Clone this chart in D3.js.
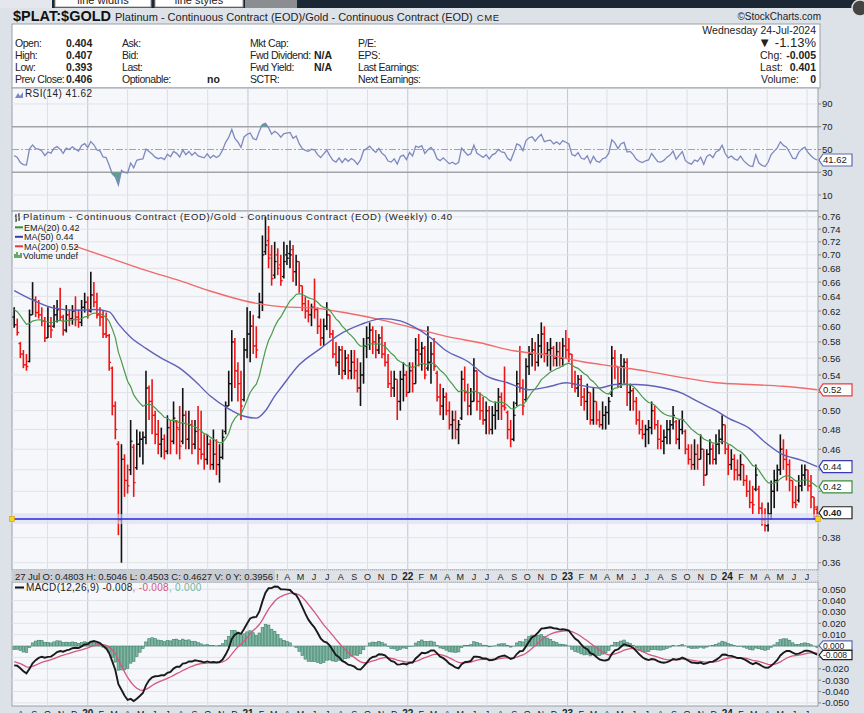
<!DOCTYPE html>
<html>
<head>
<meta charset="utf-8">
<script src="https://cdn.jsdelivr.net/npm/d3@7/dist/d3.min.js"></script>
<style>
  body { margin: 0; background: #dde2e9; }
  svg { display: block; }
  text { font-family: "Liberation Sans", Arial, sans-serif; fill: #222; }
</style>
</head>
<body>
<div id="chart"></div>
<script>
// Weekly $PLAT:$GOLD bars, first week starts Mon 15 Jul 2019
var firstWeek = new Date(2019, 6, 17)

var opens = [
  0.612, 0.602, 0.578, 0.565, 0.552, 0.556, 0.615, 0.635, 0.618, 0.615, 0.607, 0.585, 0.600,
  0.600, 0.615, 0.622, 0.612, 0.595, 0.615, 0.610, 0.620, 0.612, 0.605, 0.625, 0.632, 0.620,
  0.642, 0.632, 0.615, 0.612, 0.590, 0.588, 0.548, 0.505, 0.465, 0.395, 0.450, 0.430, 0.440,
  0.462, 0.442, 0.465, 0.470, 0.472, 0.525, 0.510, 0.495, 0.475, 0.465, 0.470, 0.458, 0.482,
  0.468, 0.488, 0.480, 0.468, 0.495, 0.470, 0.485, 0.465, 0.478, 0.460, 0.455, 0.450, 0.465,
  0.445, 0.455, 0.445, 0.452, 0.478, 0.505, 0.530, 0.580, 0.545, 0.530, 0.512, 0.570, 0.590,
  0.600, 0.575, 0.612, 0.632, 0.705, 0.722, 0.700, 0.670, 0.700, 0.685, 0.668, 0.700, 0.702,
  0.708, 0.675, 0.690, 0.655, 0.630, 0.620, 0.615, 0.625, 0.622, 0.600, 0.585, 0.600, 0.615,
  0.590, 0.565, 0.555, 0.570, 0.545, 0.560, 0.545, 0.555, 0.545, 0.525, 0.540, 0.575, 0.585,
  0.595, 0.580, 0.570, 0.585, 0.565, 0.555, 0.530, 0.525, 0.535, 0.510, 0.535, 0.540, 0.520,
  0.545, 0.530, 0.570, 0.565, 0.572, 0.548, 0.555, 0.565, 0.542, 0.515, 0.505, 0.515, 0.500,
  0.485, 0.490, 0.480, 0.492, 0.535, 0.520, 0.505, 0.510, 0.545, 0.510, 0.500, 0.490, 0.500,
  0.480, 0.495, 0.500, 0.515, 0.505, 0.498, 0.480, 0.470, 0.508, 0.530, 0.525, 0.512, 0.550,
  0.565, 0.570, 0.555, 0.575, 0.590, 0.565, 0.570, 0.572, 0.560, 0.568, 0.560, 0.575, 0.570,
  0.565, 0.530, 0.525, 0.535, 0.515, 0.510, 0.520, 0.490, 0.510, 0.490, 0.485, 0.495, 0.498,
  0.518, 0.560, 0.550, 0.530, 0.550, 0.555, 0.520, 0.522, 0.510, 0.490, 0.480, 0.475, 0.480,
  0.482, 0.500, 0.485, 0.470, 0.468, 0.472, 0.480, 0.485, 0.488, 0.470, 0.480, 0.478, 0.460,
  0.450, 0.445, 0.455, 0.450, 0.460, 0.435, 0.455, 0.460, 0.450, 0.465, 0.470, 0.485, 0.460,
  0.445, 0.450, 0.440, 0.435, 0.445, 0.430, 0.420, 0.410, 0.422, 0.422, 0.405, 0.395, 0.390,
  0.400, 0.420, 0.430, 0.440, 0.460, 0.450, 0.445, 0.430, 0.410, 0.412, 0.425, 0.435, 0.440,
  0.425, 0.415, 0.404
]
var highs = [
  0.625, 0.610, 0.580, 0.570, 0.565, 0.622, 0.660, 0.640, 0.635, 0.625, 0.612, 0.625, 0.612,
  0.628, 0.635, 0.652, 0.615, 0.628, 0.622, 0.628, 0.640, 0.622, 0.635, 0.645, 0.640, 0.675,
  0.660, 0.645, 0.625, 0.620, 0.618, 0.590, 0.550, 0.510, 0.468, 0.465, 0.455, 0.445, 0.490,
  0.465, 0.480, 0.478, 0.478, 0.545, 0.528, 0.535, 0.500, 0.490, 0.482, 0.475, 0.495, 0.490,
  0.510, 0.490, 0.505, 0.525, 0.500, 0.500, 0.490, 0.490, 0.505, 0.500, 0.475, 0.475, 0.470,
  0.480, 0.470, 0.465, 0.480, 0.510, 0.545, 0.595, 0.585, 0.555, 0.545, 0.585, 0.625, 0.620,
  0.615, 0.600, 0.645, 0.730, 0.760, 0.745, 0.715, 0.720, 0.710, 0.700, 0.720, 0.715, 0.722,
  0.715, 0.700, 0.690, 0.655, 0.640, 0.635, 0.630, 0.665, 0.625, 0.610, 0.610, 0.632, 0.615,
  0.595, 0.580, 0.575, 0.575, 0.570, 0.565, 0.570, 0.570, 0.560, 0.555, 0.585, 0.600, 0.605,
  0.600, 0.595, 0.590, 0.600, 0.580, 0.565, 0.545, 0.545, 0.535, 0.545, 0.555, 0.545, 0.555,
  0.555, 0.585, 0.590, 0.580, 0.575, 0.600, 0.580, 0.585, 0.545, 0.530, 0.525, 0.520, 0.510,
  0.500, 0.500, 0.490, 0.545, 0.550, 0.530, 0.525, 0.560, 0.545, 0.520, 0.515, 0.510, 0.505,
  0.505, 0.510, 0.525, 0.520, 0.550, 0.500, 0.490, 0.510, 0.545, 0.575, 0.535, 0.560, 0.575,
  0.585, 0.580, 0.590, 0.605, 0.600, 0.580, 0.585, 0.575, 0.580, 0.580, 0.585, 0.595, 0.585,
  0.565, 0.545, 0.540, 0.540, 0.525, 0.530, 0.520, 0.525, 0.510, 0.500, 0.510, 0.505, 0.515,
  0.575, 0.570, 0.550, 0.565, 0.560, 0.560, 0.530, 0.525, 0.515, 0.500, 0.490, 0.485, 0.490,
  0.510, 0.505, 0.490, 0.485, 0.480, 0.490, 0.490, 0.505, 0.490, 0.490, 0.500, 0.480, 0.465,
  0.465, 0.470, 0.465, 0.475, 0.460, 0.460, 0.470, 0.465, 0.475, 0.480, 0.495, 0.485, 0.465,
  0.460, 0.455, 0.450, 0.455, 0.445, 0.435, 0.430, 0.425, 0.445, 0.425, 0.410, 0.405, 0.410,
  0.430, 0.440, 0.445, 0.475, 0.470, 0.460, 0.450, 0.430, 0.425, 0.435, 0.445, 0.445, 0.440,
  0.435, 0.415, 0.407
]
var lows = [
  0.598, 0.588, 0.560, 0.548, 0.545, 0.555, 0.615, 0.612, 0.610, 0.600, 0.580, 0.585, 0.585,
  0.598, 0.605, 0.608, 0.588, 0.592, 0.600, 0.602, 0.600, 0.598, 0.600, 0.618, 0.610, 0.618,
  0.625, 0.610, 0.600, 0.585, 0.585, 0.545, 0.495, 0.470, 0.382, 0.360, 0.415, 0.418, 0.435,
  0.415, 0.440, 0.452, 0.445, 0.465, 0.490, 0.475, 0.465, 0.455, 0.452, 0.450, 0.455, 0.455,
  0.465, 0.455, 0.450, 0.465, 0.460, 0.460, 0.455, 0.460, 0.445, 0.450, 0.440, 0.445, 0.440,
  0.440, 0.435, 0.428, 0.450, 0.475, 0.505, 0.510, 0.525, 0.510, 0.490, 0.510, 0.560, 0.555,
  0.565, 0.560, 0.610, 0.620, 0.700, 0.680, 0.655, 0.665, 0.670, 0.655, 0.665, 0.685, 0.680,
  0.660, 0.655, 0.645, 0.620, 0.610, 0.605, 0.600, 0.610, 0.590, 0.575, 0.575, 0.595, 0.585,
  0.560, 0.550, 0.540, 0.535, 0.540, 0.535, 0.535, 0.535, 0.520, 0.505, 0.530, 0.560, 0.570,
  0.565, 0.560, 0.565, 0.560, 0.550, 0.525, 0.515, 0.515, 0.490, 0.500, 0.510, 0.515, 0.520,
  0.520, 0.530, 0.550, 0.545, 0.535, 0.545, 0.530, 0.545, 0.510, 0.495, 0.490, 0.495, 0.480,
  0.470, 0.470, 0.465, 0.490, 0.510, 0.495, 0.495, 0.510, 0.500, 0.490, 0.485, 0.475, 0.475,
  0.475, 0.480, 0.490, 0.490, 0.500, 0.470, 0.462, 0.468, 0.505, 0.520, 0.495, 0.510, 0.540,
  0.550, 0.545, 0.550, 0.560, 0.555, 0.550, 0.545, 0.550, 0.550, 0.550, 0.550, 0.560, 0.555,
  0.525, 0.520, 0.515, 0.505, 0.500, 0.490, 0.485, 0.485, 0.485, 0.482, 0.480, 0.480, 0.485,
  0.515, 0.535, 0.525, 0.525, 0.530, 0.505, 0.500, 0.500, 0.485, 0.475, 0.470, 0.462, 0.465,
  0.475, 0.480, 0.460, 0.460, 0.455, 0.465, 0.465, 0.480, 0.465, 0.460, 0.475, 0.455, 0.445,
  0.440, 0.440, 0.440, 0.450, 0.425, 0.435, 0.445, 0.445, 0.445, 0.455, 0.465, 0.455, 0.435,
  0.440, 0.430, 0.430, 0.430, 0.425, 0.415, 0.405, 0.400, 0.420, 0.400, 0.390, 0.385, 0.385,
  0.395, 0.405, 0.420, 0.435, 0.440, 0.430, 0.420, 0.405, 0.405, 0.410, 0.420, 0.425, 0.420,
  0.405, 0.395, 0.393
]
var closes = [
  0.602, 0.592, 0.565, 0.552, 0.550, 0.615, 0.635, 0.618, 0.615, 0.607, 0.585, 0.600, 0.595,
  0.615, 0.622, 0.612, 0.595, 0.615, 0.610, 0.620, 0.612, 0.605, 0.625, 0.632, 0.620, 0.642,
  0.632, 0.615, 0.612, 0.590, 0.588, 0.555, 0.505, 0.480, 0.395, 0.450, 0.430, 0.425, 0.468,
  0.428, 0.465, 0.470, 0.472, 0.525, 0.510, 0.495, 0.475, 0.465, 0.470, 0.458, 0.482, 0.468,
  0.492, 0.482, 0.463, 0.495, 0.470, 0.485, 0.465, 0.478, 0.460, 0.455, 0.450, 0.465, 0.445,
  0.455, 0.445, 0.452, 0.472, 0.505, 0.530, 0.580, 0.545, 0.530, 0.505, 0.570, 0.590, 0.600,
  0.575, 0.570, 0.632, 0.700, 0.715, 0.695, 0.665, 0.690, 0.680, 0.662, 0.690, 0.695, 0.700,
  0.675, 0.690, 0.655, 0.630, 0.620, 0.615, 0.625, 0.622, 0.600, 0.585, 0.600, 0.615, 0.590,
  0.565, 0.555, 0.570, 0.545, 0.560, 0.545, 0.555, 0.545, 0.525, 0.540, 0.575, 0.585, 0.595,
  0.580, 0.570, 0.585, 0.565, 0.555, 0.530, 0.525, 0.535, 0.510, 0.535, 0.540, 0.520, 0.545,
  0.530, 0.570, 0.565, 0.572, 0.540, 0.555, 0.565, 0.550, 0.515, 0.505, 0.515, 0.500, 0.485,
  0.490, 0.480, 0.485, 0.535, 0.520, 0.505, 0.510, 0.545, 0.510, 0.500, 0.490, 0.500, 0.480,
  0.495, 0.500, 0.515, 0.505, 0.503, 0.480, 0.470, 0.495, 0.530, 0.525, 0.505, 0.550, 0.565,
  0.570, 0.555, 0.575, 0.590, 0.565, 0.570, 0.572, 0.560, 0.568, 0.560, 0.575, 0.570, 0.565,
  0.530, 0.525, 0.535, 0.515, 0.510, 0.520, 0.490, 0.510, 0.490, 0.485, 0.495, 0.498, 0.510,
  0.560, 0.550, 0.530, 0.550, 0.555, 0.520, 0.522, 0.510, 0.490, 0.480, 0.475, 0.480, 0.482,
  0.500, 0.485, 0.470, 0.468, 0.472, 0.480, 0.485, 0.495, 0.470, 0.480, 0.490, 0.460, 0.450,
  0.445, 0.455, 0.450, 0.460, 0.435, 0.455, 0.460, 0.450, 0.465, 0.470, 0.485, 0.460, 0.445,
  0.450, 0.440, 0.435, 0.445, 0.430, 0.420, 0.410, 0.408, 0.435, 0.405, 0.395, 0.390, 0.400,
  0.420, 0.430, 0.440, 0.460, 0.450, 0.445, 0.430, 0.410, 0.408, 0.425, 0.435, 0.440, 0.425,
  0.415, 0.406, 0.401
]

// Moving averages: [week number, value]
var ma50Pts = [[0,0.648],[6,0.635],[13,0.624],[21,0.621],[26,0.622],[31,0.619],[34,0.603],[38,0.586],
  [43,0.572],[48,0.560],[54,0.548],[59,0.533],[64,0.516],[70,0.502],[75,0.494],[79,0.492],[82,0.500],
  [85,0.516],[87,0.525],[93,0.552],[100,0.572],[106,0.589],[113,0.602],[120,0.610],[126,0.607],
  [130,0.600],[136,0.585],[141,0.569],[148,0.556],[154,0.539],[161,0.531],[168,0.523],[175,0.527],
  [180,0.531],[185,0.528],[191,0.525],[196,0.529],[203,0.529],[209,0.527],[218,0.519],[223,0.510],
  [229,0.500],[233,0.492],[240,0.481],[245,0.467],[250,0.456],[257,0.449],[262,0.443]]
var ma200Pts = [[20,0.713],[32,0.694],[43,0.677],[54,0.662],[65,0.646],[75,0.634],[81,0.629],
  [87,0.626],[98,0.624],[109,0.617],[119,0.609],[130,0.598],[141,0.587],[152,0.579],[163,0.569],
  [174,0.564],[185,0.556],[196,0.550],[207,0.544],[218,0.537],[229,0.531],[240,0.529],[251,0.527],
  [262,0.523]]

// indicator starting states
var ema20Start = 0.622
var ema12Start = 0.612
var ema26Start = 0.629
var signalStart = -0.0138
var avgGainStart = 0.0085
var avgLossStart = 0.0105

var hLineValue = 0.3956
var priceTicks = [0.36, 0.38, 0.40, 0.42, 0.44, 0.46, 0.48, 0.50, 0.52, 0.54, 0.56, 0.58,
  0.60, 0.62, 0.64, 0.66, 0.68, 0.70, 0.72, 0.74, 0.76]
var rsiTicks = [10, 30, 50, 70, 90]
var macdTicks = [0.05, 0.04, 0.03, 0.02, 0.01, 0, -0.01, -0.02, -0.03, -0.04, -0.05]
var monthLetters = ['J', 'F', 'M', 'A', 'M', 'J', 'J', 'A', 'S', 'O', 'N', 'D']
var endLabels = { ema: '0.42', ma50: '0.44', ma200: '0.52', price: '0.40', rsi: '41.62', hist: '0.000', macd: '-0.008' }

// Dimensions
var W = 864, H = 713
var left = 12, right = 818
var rsiBox = { top: 88, bottom: 211 }
var priceBox = { top: 211, bottom: 570 }
var macdBox = { top: 582, bottom: 706 }

var svg = d3.select('#chart').append('svg').attr('width', W).attr('height', H)

// Scales
var x = d3.scaleTime().domain([new Date(2019, 6, 12), new Date(2024, 6, 26)]).range([left, right])
var y = d3.scaleLog().domain([0.36, 0.76]).range([562.7, 216.8])
var yRsi = d3.scaleLinear().domain([0, 100]).range([206.4, 92.6])
var yMacd = d3.scaleLinear().domain([-0.05, 0.05]).range([702.9, 589.2])

var dates = closes.map(function (d, i) { return d3.timeDay.offset(firstWeek, 7 * i) })
var xi = function (i) { return x(dates[i]) }

// Indicators
var ema20 = [], e12 = [], e26 = [], macd = [], signal = [], hist = [], rsi = []
var ag = avgGainStart, al = avgLossStart
closes.forEach(function (c, i) {
  ema20.push(i ? ema20[i - 1] + (2 / 21) * (c - ema20[i - 1]) : ema20Start)
  e12.push(i ? e12[i - 1] + (2 / 13) * (c - e12[i - 1]) : ema12Start)
  e26.push(i ? e26[i - 1] + (2 / 27) * (c - e26[i - 1]) : ema26Start)
  macd.push(e12[i] - e26[i])
  signal.push(i ? signal[i - 1] + 0.2 * (macd[i] - signal[i - 1]) : signalStart)
  hist.push(macd[i] - signal[i])
  if (i) {
    var ch = c - closes[i - 1]
    ag = (ag * 13 + Math.max(ch, 0)) / 14
    al = (al * 13 + Math.max(-ch, 0)) / 14
  }
  rsi.push(100 - 100 / (1 + ag / al))
})
var last = closes.length - 1

// Top UI strip
svg.append('rect').attr('x', 0).attr('y', 0).attr('width', W).attr('height', 8).attr('fill', '#1c2736')
svg.append('rect').attr('x', 0).attr('y', 0).attr('width', 52).attr('height', 8).attr('fill', '#e4e7ec')
svg.append('rect').attr('x', 55).attr('y', -2).attr('width', 96).attr('height', 9).attr('fill', '#fff').attr('stroke', '#999')
svg.append('rect').attr('x', 155).attr('y', -2).attr('width', 88).attr('height', 9).attr('fill', '#fff').attr('stroke', '#999')
svg.append('rect').attr('x', 245).attr('y', 0).attr('width', 52).attr('height', 8).attr('fill', '#8b8d90')
svg.append('text').attr('x', 103).attr('y', 4).attr('text-anchor', 'middle').style('font-size', '11px').attr('fill', '#333').text('line widths')
svg.append('text').attr('x', 199).attr('y', 4).attr('text-anchor', 'middle').style('font-size', '11px').attr('fill', '#333').text('line styles')
svg.append('circle').attr('cx', 860).attr('cy', 8).attr('r', 8).attr('fill', '#444').attr('stroke', '#ddd').attr('stroke-width', 1.5)

// Title
var title = svg.append('text').attr('x', 13).attr('y', 21)
title.append('tspan').style('font-size', '14.5px').style('font-weight', 'bold').attr('fill', '#111').text('$PLAT:$GOLD')
title.append('tspan').attr('dx', 4).style('font-size', '11px').text('Platinum - Continuous Contract (EOD)/Gold - Continuous Contract (EOD)')
title.append('tspan').attr('dx', 4).style('font-size', '9.5px').style('letter-spacing', '0.6px').text('CME')
svg.append('text').attr('x', 821).attr('y', 20).attr('text-anchor', 'end').style('font-size', '10px').attr('fill', '#666').text('\u00a9StockCharts.com')

// Info box
svg.append('rect').attr('x', left).attr('y', 24).attr('width', 808).attr('height', 64).attr('fill', '#fff').attr('stroke', '#9aa0a8')
var rowsY = [47, 59, 71, 83]
function info(xp, yp, t, bold, anchor) {
  svg.append('text').attr('x', xp).attr('y', yp).attr('text-anchor', anchor || 'start')
    .style('font-size', '10.5px').style('font-weight', bold ? 'bold' : 'normal').text(t)
}
var infoCols = [
  { x: 15, labels: ['Open:', 'High:', 'Low:', 'Prev Close:'] },
  { x: 122, labels: ['Ask:', 'Bid:', 'Last:', 'Optionable:'] },
  { x: 250, labels: ['Mkt Cap:', 'Fwd Dividend:', 'Fwd Yield:', 'SCTR:'] },
  { x: 358, labels: ['P/E:', 'EPS:', 'Last Earnings:', 'Next Earnings:'] }
]
infoCols.forEach(function (c) {
  c.labels.forEach(function (l, j) {
    svg.append('text').attr('x', c.x).attr('y', rowsY[j]).style('font-size', '10.5px').style('letter-spacing', '-0.45px').text(l)
  })
})
;['0.404', '0.407', '0.393', '0.406'].forEach(function (v, j) { info(66, rowsY[j], v, true) })
info(207, rowsY[3], 'no', true)
info(314, rowsY[1], 'N/A', true)
info(314, rowsY[2], 'N/A', true)
info(816, 34, 'Wednesday  24-Jul-2024', false, 'end')
svg.append('text').attr('x', 816).attr('y', 46.5).attr('text-anchor', 'end').style('font-size', '13px')
  .attr('fill', '#3d5a99').text('\u25bc -1.13%')
info(760, rowsY[1], 'Chg:')
info(816, rowsY[1], '-0.005', true, 'end')
info(760, rowsY[2], 'Last:')
info(816, rowsY[2], '0.401', true, 'end')
info(761, rowsY[3], 'Volume:')
info(816, rowsY[3], '0', true, 'end')

// Panels
function panel(box, name) {
  svg.append('rect').attr('x', left).attr('y', box.top).attr('width', right - left).attr('height', box.bottom - box.top)
    .attr('fill', '#f5f7fb').attr('stroke', '#9aa0a8')
  svg.append('clipPath').attr('id', 'clip-' + name).append('rect')
    .attr('x', left).attr('y', box.top).attr('width', right - left).attr('height', box.bottom - box.top)
  return svg.append('g').attr('clip-path', 'url(#clip-' + name + ')')
}
var gRsi = panel(rsiBox, 'rsi')
var gPrice = panel(priceBox, 'price')
var gMacd = panel(macdBox, 'macd')

// Vertical grid (quarters, year lines darker)
var quarters = d3.timeMonth.every(3).range(new Date(2019, 6, 12), new Date(2024, 6, 26))
;[[gRsi, rsiBox], [gPrice, priceBox], [gMacd, macdBox]].forEach(function (p) {
  p[0].selectAll('.vgrid').data(quarters).enter().append('line')
    .attr('x1', function (d) { return x(d) }).attr('x2', function (d) { return x(d) })
    .attr('y1', p[1].top).attr('y2', p[1].bottom)
    .attr('stroke', function (d) { return d.getMonth() === 0 ? '#c3c6cd' : '#dcdfe5' })
    .attr('stroke-width', 1)
})

// Horizontal grids
gPrice.selectAll('.hgrid').data(priceTicks).enter().append('line')
  .attr('x1', left).attr('x2', right)
  .attr('y1', function (d) { return y(d) }).attr('y2', function (d) { return y(d) })
  .attr('stroke', '#e0e3e8')
gMacd.selectAll('.hgrid').data(macdTicks).enter().append('line')
  .attr('x1', left).attr('x2', right)
  .attr('y1', function (d) { return yMacd(d) }).attr('y2', function (d) { return yMacd(d) })
  .attr('stroke', '#e0e3e8')
gRsi.selectAll('.hgrid').data([10, 90]).enter().append('line')
  .attr('x1', left).attr('x2', right)
  .attr('y1', function (d) { return yRsi(d) }).attr('y2', function (d) { return yRsi(d) })
  .attr('stroke', '#e0e3e8')

// RSI panel
gRsi.selectAll('.lvl').data([30, 70]).enter().append('line')
  .attr('x1', left).attr('x2', right)
  .attr('y1', function (d) { return yRsi(d) }).attr('y2', function (d) { return yRsi(d) })
  .attr('stroke', '#a2a4aa').attr('stroke-width', 1.6)
gRsi.append('line').attr('x1', left).attr('x2', right).attr('y1', yRsi(50)).attr('y2', yRsi(50))
  .attr('stroke', '#a2a4aa').attr('stroke-dasharray', '7,2,2,2')
gRsi.append('path').datum(rsi)
  .attr('d', d3.area().x(function (d, i) { return xi(i) }).y0(yRsi(70))
    .y1(function (d) { return yRsi(Math.max(d, 70)) }))
  .attr('fill', '#5f9f8d')
gRsi.append('path').datum(rsi)
  .attr('d', d3.area().x(function (d, i) { return xi(i) }).y0(yRsi(30))
    .y1(function (d) { return yRsi(Math.min(d, 30)) }))
  .attr('fill', '#5f9f8d')
gRsi.append('path').datum(rsi)
  .attr('d', d3.line().x(function (d, i) { return xi(i) }).y(function (d) { return yRsi(d) }))
  .attr('fill', 'none').attr('stroke', '#7d89bf').attr('stroke-width', 1.3)

// RSI legend
svg.append('path').attr('d', 'M15,98 L18,93 L20,96 L23,92 L23,98 Z').attr('fill', '#7d89bf')
svg.append('text').attr('x', 25).attr('y', 97).style('font-size', '10px').style('letter-spacing', '0.4px')
  .attr('fill', '#333').text('RSI(14) 41.62')

// Price bars
var bars = gPrice.selectAll('.bar').data(closes).enter().append('g')
  .attr('stroke', function (d, i) { return i && d < closes[i - 1] ? '#ee1414' : '#111' })
bars.append('line')
  .attr('x1', function (d, i) { return xi(i) }).attr('x2', function (d, i) { return xi(i) })
  .attr('y1', function (d, i) { return y(highs[i]) }).attr('y2', function (d, i) { return y(lows[i]) })
  .attr('stroke-width', 1.6)
bars.append('line')
  .attr('x1', function (d, i) { return xi(i) - 1.9 }).attr('x2', function (d, i) { return xi(i) })
  .attr('y1', function (d, i) { return y(opens[i]) }).attr('y2', function (d, i) { return y(opens[i]) })
  .attr('stroke-width', 1.3)
bars.append('line')
  .attr('x1', function (d, i) { return xi(i) }).attr('x2', function (d, i) { return xi(i) + 1.9 })
  .attr('y1', function (d) { return y(d) }).attr('y2', function (d) { return y(d) })
  .attr('stroke-width', 1.3)

// Overlays
var ptLine = d3.line().curve(d3.curveMonotoneX)
  .x(function (d) { return xi(d[0]) }).y(function (d) { return y(d[1]) })
gPrice.append('path').datum(ma200Pts).attr('d', ptLine)
  .attr('fill', 'none').attr('stroke', '#f06a6a').attr('stroke-width', 1.4)
gPrice.append('path').datum(ma50Pts).attr('d', ptLine)
  .attr('fill', 'none').attr('stroke', '#6060b8').attr('stroke-width', 1.4)
gPrice.append('path').datum(ema20)
  .attr('d', d3.line().x(function (d, i) { return xi(i) }).y(function (d) { return y(d) }))
  .attr('fill', 'none').attr('stroke', '#4a9a4a').attr('stroke-width', 1.2)

// Horizontal annotation line
gPrice.append('rect').attr('x', left).attr('y', y(hLineValue) - 5).attr('width', right - left).attr('height', 10)
  .attr('fill', '#dcdcf4').attr('opacity', 0.6)
gPrice.append('line').attr('x1', left).attr('x2', right).attr('y1', y(hLineValue)).attr('y2', y(hLineValue))
  .attr('stroke', '#2424e0').attr('stroke-width', 1.4)
;[left, right].forEach(function (px) {
  svg.append('rect').attr('x', px - 2.5).attr('y', y(hLineValue) - 2.5).attr('width', 5).attr('height', 5)
    .attr('fill', '#ffd21e').attr('stroke', '#c9a000').attr('stroke-width', 0.6)
})

// Price legend
svg.append('path').attr('d', 'M16,214 L16,222 M15,216 L16,216 M16,220 L17,220 M19,213 L19,221 M18,215 L19,215 M19,219 L20,219')
  .attr('stroke', '#222').attr('stroke-width', 1)
svg.append('text').attr('x', 23).attr('y', 220).style('font-size', '9.5px').attr('textLength', 429)
  .attr('fill', '#333').text('Platinum - Continuous Contract (EOD)/Gold - Continuous Contract (EOD) (Weekly) 0.40')
var legendItems = [
  { t: 'EMA(20) 0.42', c: '#3a8f3a', y: 230.5 },
  { t: 'MA(50) 0.44', c: '#3b3bb0', y: 240 },
  { t: 'MA(200) 0.52', c: '#e83a3a', y: 249.5 }
]
legendItems.forEach(function (d) {
  svg.append('line').attr('x1', 15).attr('x2', 23).attr('y1', d.y - 3.2).attr('y2', d.y - 3.2)
    .attr('stroke', d.c).attr('stroke-width', 2)
  svg.append('text').attr('x', 24).attr('y', d.y).style('font-size', '9px').attr('fill', d.c).text(d.t)
})
svg.append('path').attr('d', 'M15,258 L15,254 M17,258 L17,252 M19,258 L19,255 M21,258 L21,253')
  .attr('stroke', '#3a8f3a').attr('stroke-width', 1.5)
svg.append('text').attr('x', 23).attr('y', 259).style('font-size', '9px').attr('fill', '#3a8f3a').text('Volume undef')

// Date strip
svg.append('rect').attr('x', left).attr('y', priceBox.bottom).attr('width', right - left).attr('height', macdBox.top - priceBox.bottom)
  .attr('fill', '#dfe2e7').attr('stroke', '#a8acb3').attr('stroke-dasharray', '1,1')
var months = d3.timeMonth.range(new Date(2019, 7, 1), new Date(2024, 6, 26))
function monthLabel(sel, yb, minX) {
  sel.selectAll('.m').data(months.filter(function (d) { return x(d) > minX })).enter().append('text')
    .attr('x', function (d) { return x(d) }).attr('y', yb).attr('text-anchor', 'middle')
    .style('font-size', function (d) { return d.getMonth() === 0 ? '10px' : '9px' })
    .style('font-weight', function (d) { return d.getMonth() === 0 ? 'bold' : 'normal' })
    .attr('fill', '#333')
    .text(function (d) { return d.getMonth() === 0 ? d3.timeFormat('%y')(d) : monthLetters[d.getMonth()] })
}
monthLabel(svg.append('g'), 579.5, 280)
svg.append('rect').attr('x', left).attr('y', priceBox.bottom).attr('width', 263).attr('height', 12).attr('fill', '#c8ccd3')
svg.append('text').attr('x', 15).attr('y', 579.5).style('font-size', '9.5px').attr('textLength', 258).attr('fill', '#333')
  .text('27 Jul O: 0.4803   H: 0.5046   L: 0.4503   C: 0.4627   V: 0   Y: 0.3956')
svg.append('text').attr('x', 276).attr('y', 579.5).style('font-size', '9px').attr('fill', '#333').text('!')

// MACD panel
gMacd.selectAll('.hist').data(hist).enter().append('rect')
  .attr('x', function (d, i) { return xi(i) - 1.3 }).attr('width', 2.6)
  .attr('y', function (d) { return Math.min(yMacd(d), yMacd(0)) })
  .attr('height', function (d) { return Math.abs(yMacd(d) - yMacd(0)) })
  .attr('fill', '#7fb6a2').attr('stroke', '#3f806b').attr('stroke-width', 0.6)
gMacd.append('path').datum(signal)
  .attr('d', d3.line().x(function (d, i) { return xi(i) }).y(function (d) { return yMacd(d) }))
  .attr('fill', 'none').attr('stroke', '#d4587c').attr('stroke-width', 1.3)
gMacd.append('path').datum(macd)
  .attr('d', d3.line().x(function (d, i) { return xi(i) }).y(function (d) { return yMacd(d) }))
  .attr('fill', 'none').attr('stroke', '#1a1a1a').attr('stroke-width', 1.9)
svg.append('line').attr('x1', 15).attr('x2', 24).attr('y1', 587.5).attr('y2', 587.5).attr('stroke', '#111').attr('stroke-width', 2)
var ml = svg.append('text').attr('x', 26).attr('y', 591).style('font-size', '10px').style('letter-spacing', '0.3px')
ml.append('tspan').attr('fill', '#222').text('MACD(12,26,9) -0.008')
ml.append('tspan').attr('fill', '#d4587c').text(', -0.008')
ml.append('tspan').attr('fill', '#6fb7a0').text(', 0.000')

// Bottom month axis
monthLabel(svg.append('g'), 716.5, 14)

// End-value tag positions, so axis labels under them are left out
var priceTags = [
  { y: y(ma200Pts[ma200Pts.length - 1][1]), t: endLabels.ma200, c: '#e83a3a' },
  { y: y(ma50Pts[ma50Pts.length - 1][1]), t: endLabels.ma50, c: '#3b3bb0' },
  { y: y(ema20[last]), t: endLabels.ema, c: '#3a8f3a' },
  { y: y(closes[last]), t: endLabels.price, c: '#222', b: true }
]
var rsiTags = [{ y: yRsi(rsi[last]), t: endLabels.rsi, c: '#5a6cb0' }]
var macdTags = [
  { y: yMacd(0) - 0.5, t: endLabels.hist, c: '#5a6cb0' },
  { y: yMacd(macd[last]) + 0.5, t: endLabels.macd, c: '#222' }
]
function free(tags) {
  return function (yp) { return tags.every(function (t) { return Math.abs(t.y - yp) > 9 }) }
}

// Right axes
var axisFont = '9.5px'
function axisLabels(ticks, scale, tags, fmt) {
  svg.selectAll(null).data(ticks).enter().append('line')
    .attr('x1', right).attr('x2', right + 3)
    .attr('y1', function (d) { return scale(d) }).attr('y2', function (d) { return scale(d) })
    .attr('stroke', '#888')
  svg.selectAll(null).data(ticks.filter(function (d) { return free(tags)(scale(d)) })).enter().append('text')
    .attr('x', 822).attr('y', function (d) { return scale(d) + 3.5 }).style('font-size', axisFont).attr('fill', '#333')
    .text(fmt)
}
axisLabels(priceTicks, y, priceTags, function (d) { return d.toFixed(2) })
axisLabels(rsiTicks, yRsi, rsiTags, function (d) { return d })
axisLabels(macdTicks, yMacd, macdTags, function (d) { return d.toFixed(3) })

// End-value tags
function tag(d, half, fs) {
  var yp = d.y
  svg.append('path').attr('d', 'M' + (right + 1) + ',' + yp + ' L' + (right + 5) + ',' + (yp - half) + ' L852,' + (yp - half) +
    ' L852,' + (yp + half) + ' L' + (right + 5) + ',' + (yp + half) + ' Z')
    .attr('fill', '#fff').attr('stroke', d.c).attr('stroke-width', 1.2)
  svg.append('text').attr('x', 823).attr('y', yp + fs * 0.36).style('font-size', fs + 'px')
    .style('font-weight', d.b ? 'bold' : 'normal').attr('fill', '#222').text(d.t)
}
priceTags.concat(rsiTags).forEach(function (d) { tag(d, 6, 9.5) })
macdTags.forEach(function (d) { tag(d, 4.6, 8.5) })
</script>
</body>
</html>
